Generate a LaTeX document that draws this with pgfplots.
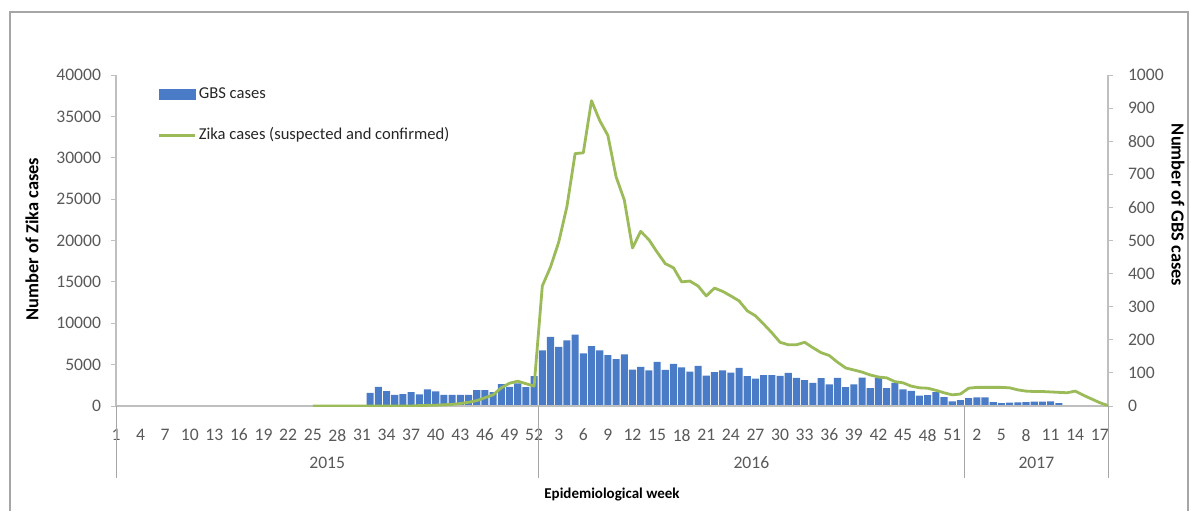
\documentclass[border=0pt]{standalone}
\usepackage{fontspec}
\setmainfont{Carlito}
\usepackage{pgfplots}
\usepackage{pgfplotstable}
\pgfplotsset{compat=1.18}
\definecolor{gbsblue}{HTML}{4A7BC6}
\definecolor{zikagreen}{HTML}{9BBB59}
\definecolor{ticktext}{HTML}{595959}
\definecolor{axisgray}{HTML}{BFBFBF}
\definecolor{sepgray}{HTML}{A6A6A6}

% index: 2015 w1 = 0 ... 2015 w52 = 51, 2016 w1 = 52 ... 2016 w52 = 103, 2017 w1 = 104 ... w18 = 121
\pgfplotstableread{
x y
31 40
32 58
33 45
34 34
35 36
36 42
37 35
38 50
39 44
40 34
41 34
42 34
43 34
44 48
45 48
46 42
47 66
48 58
49 68
50 57
51 90
52 168
53 209
54 179
55 198
56 216
57 159
58 181
59 168
60 154
61 142
62 156
63 110
64 118
65 108
66 133
67 109
68 127
69 117
70 104
71 121
72 92
73 102
74 108
75 101
76 115
77 90
78 83
79 93
80 93
81 91
82 100
83 85
84 78
85 70
86 84
87 65
88 85
89 57
90 65
91 86
92 54
93 85
94 54
95 70
96 50
97 46
98 31
99 33
100 42
101 27
102 14
103 18
104 24
105 26
106 26
107 12
108 9
109 10
110 11
111 12
112 13
113 13
114 14
115 9
}\gbs

\pgfplotstableread{
x y
24 0
25 0
26 0
27 0
28 0
29 0
30 0
31 0
32 0
33 0
34 0
35 0
36 0
37 50
38 80
39 100
40 150
41 200
42 300
43 450
44 650
45 1000
46 1350
47 2200
48 2750
49 3000
50 2700
51 2400
52 14500
53 16800
54 19800
55 24100
56 30500
57 30600
58 36900
59 34500
60 32700
61 27700
62 24900
63 19100
64 21100
65 20100
66 18600
67 17200
68 16700
69 15000
70 15100
71 14500
72 13300
73 14250
74 13850
75 13300
76 12700
77 11500
78 10900
79 9900
80 8850
81 7700
82 7400
83 7400
84 7700
85 7050
86 6450
87 6100
88 5300
89 4600
90 4350
91 4100
92 3750
93 3500
94 3400
95 2950
96 2800
97 2400
98 2200
99 2150
100 1900
101 1600
102 1350
103 1450
104 2150
105 2250
106 2250
107 2250
108 2250
109 2200
110 1950
111 1800
112 1750
113 1750
114 1700
115 1650
116 1600
117 1800
118 1300
119 850
120 400
121 50
}\zika

\begin{document}
\begin{tikzpicture}
\useasboundingbox (0,0) rectangle (595.5pt,255.5pt);
\draw[color=black!35, line width=1pt] (5pt,0pt) -- (5pt,249.5pt) -- (594pt,249.5pt) -- (594pt,0pt);

\pgfplotsset{
  common/.style={
    at={(58pt,52.5pt)}, anchor=south west, scale only axis,
    width=496pt, height=165.5pt,
    xmin=0, xmax=121, ymin=0,
    tick label style={font=\fontsize{8.8}{10}\selectfont, color=ticktext},
    /pgf/number format/assume math mode=true,
    /pgf/number format/1000 sep={},
    scaled y ticks=false,
    axis line style={axisgray, line width=0.6pt},
    tick style={axisgray, line width=0.5pt},
    tick align=outside,
    major tick length=2.5pt,
  }
}

% bars: GBS cases, right axis
\begin{axis}[common,
  ymax=1000,
  axis y line*=right,
  axis x line=none,
  ytick={0,100,...,1000},
  yticklabel style={xshift=4pt},
]
\addplot[ybar, fill=gbsblue, draw=none, bar width=3.55pt] table[x=x, y=y] {\gbs};
\end{axis}

% line: Zika cases, left axis
\begin{axis}[common,
  ymax=40000,
  axis y line*=left,
  axis x line*=bottom,
  ytick={0,5000,...,40000},
  yticklabel style={xshift=-1.5pt},
  xtick={0,3,...,120},
  xticklabels={1,4,7,10,13,16,19,22,25,28,31,34,37,40,43,46,49,52,3,6,9,12,15,18,21,24,27,30,33,36,39,42,45,48,51,2,5,8,11,14,17},
  xtick style={draw=none},
  xticklabel style={yshift=-5.5pt},
  legend cell align=left,
  legend style={at={(0.042,0.968)}, anchor=north west, draw=none, fill=none,
    font=\fontsize{8.3}{9}\selectfont, text=black!85, row sep=12pt, inner sep=0pt,
    nodes={inner sep=1pt, text height=5pt, text depth=1.5pt}},
]
\addlegendimage{legend image code/.code={\fill[gbsblue] (0pt,-2.5pt) rectangle (18pt,2.5pt);}}
\addlegendentry{GBS cases}
\addplot[zikagreen, line width=1.4pt, line join=round, no markers,
  legend image code/.code={\draw[zikagreen, line width=1.4pt] (0pt,0pt) -- (18pt,0pt);}]
  table[x=x, y=y] {\zika};
\addlegendentry{Zika cases (suspected and confirmed)}
\end{axis}

% multi-level category separators and years
\draw[sepgray, line width=0.5pt] (58pt,52.5pt) -- (58pt,16.5pt);
\draw[sepgray, line width=0.5pt] (269.1pt,52.5pt) -- (269.1pt,16.5pt);
\draw[sepgray, line width=0.5pt] (482.3pt,52.5pt) -- (482.3pt,16.5pt);
\draw[sepgray, line width=0.5pt] (554pt,52.5pt) -- (554pt,16.5pt);
\node[font=\fontsize{8.8}{10}\selectfont, text=ticktext] at (163.6pt,24pt) {2015};
\node[font=\fontsize{8.8}{10}\selectfont, text=ticktext] at (375.7pt,24pt) {2016};
\node[font=\fontsize{8.8}{10}\selectfont, text=ticktext] at (518.2pt,24pt) {2017};

\node[font=\bfseries\fontsize{7.5}{9}\selectfont] at (306pt,8pt) {Epidemiological week};
\node[font=\bfseries\fontsize{9.2}{10}\selectfont, rotate=90] at (16pt,136pt) {Number of Zika cases};
\node[font=\bfseries\fontsize{9.2}{10}\selectfont, rotate=-90] at (589pt,153pt) {Number of GBS cases};
\end{tikzpicture}
\end{document}
